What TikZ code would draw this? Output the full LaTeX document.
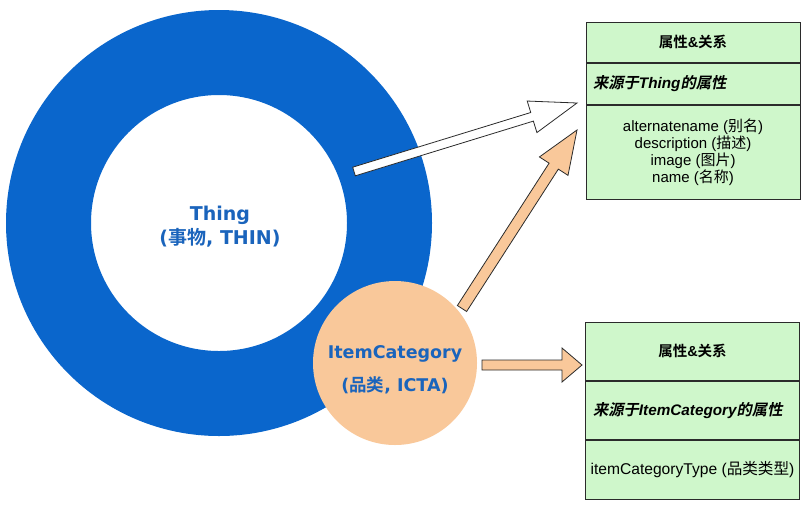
\documentclass[tikz,border=0pt]{standalone}
\usepackage{fontspec}
\setmainfont{Liberation Sans}
\newfontfamily\cjk{Noto Sans CJK SC}[BoldFont={Noto Sans CJK SC Bold}, ItalicFont={Noto Sans CJK SC}, ItalicFeatures={FakeSlant=0.2}, BoldItalicFont={Noto Sans CJK SC Bold}, BoldItalicFeatures={FakeSlant=0.2}]
\newfontfamily\dv{DejaVu Sans}
\usetikzlibrary{calc}
\definecolor{ringblue}{HTML}{0A66CC}
\definecolor{txtblue}{HTML}{1A64BC}
\definecolor{peach}{HTML}{F9C89A}
\definecolor{boxgreen}{HTML}{CFF7CB}
\definecolor{edgegray}{HTML}{2B2B2B}
\newcommand\zh[1]{{\cjk #1}}
% block arrow: #1 style, #2 from, #3 to, #4 shaft half width, #5 head half width, #6 head length
\newcommand\blockarrow[6]{%
  \path[#1] let \p1=($(#3)-(#2)$), \n1={atan2(\y1,\x1)}, \n2={veclen(\x1,\y1)-#6} in
    ($(#2)+({\n1+90}:#4pt)$) -- ($(#2)+(\n1:\n2)+({\n1+90}:#4pt)$) --
    ($(#2)+(\n1:\n2)+({\n1+90}:#5pt)$) -- (#3) --
    ($(#2)+(\n1:\n2)+({\n1-90}:#5pt)$) -- ($(#2)+(\n1:\n2)+({\n1-90}:#4pt)$) --
    ($(#2)+({\n1-90}:#4pt)$) -- cycle;}
\begin{document}
\begin{tikzpicture}[x=1pt,y=1pt,
  bigtext/.style={text=txtblue, align=center, font=\dv\bfseries\fontsize{19}{24}\selectfont},
  ictext/.style={text=txtblue, align=center, font=\dv\bfseries\fontsize{17.5}{33}\selectfont},
  boxrow/.style={draw=edgegray, fill=boxgreen, line width=0.8pt, minimum width=214pt, inner sep=0pt, anchor=north,
    font=\fontsize{15}{17}\selectfont},
  titlefont/.style={font=\fontsize{14.5}{17}\selectfont\bfseries},
  subfont/.style={font=\fontsize{15.3}{17}\selectfont\bfseries\itshape},
  arrowwhite/.style={draw=edgegray, fill=white, line width=0.8pt, line join=miter},
  arrowpeach/.style={draw=edgegray, fill=peach, line width=0.8pt, line join=miter}]
\useasboundingbox[fill=white] (0,0) rectangle (810,-507);
% Thing ring
\coordinate (c) at (219,-223);
\fill[ringblue, even odd rule] (c) circle[radius=213] (c) circle[radius=128];
\node[bigtext] (thing) at (220,-227) {Thing\\(\zh{事物}, THIN)};
% boxes
\node[boxrow, minimum height=40pt, titlefont] (b1t) at (693,-22) {\zh{属性}\&\zh{关系}};
\node[boxrow, minimum height=41pt, text width=200pt, align=left, subfont] (b1m) at (b1t.south) {\zh{来源于}Thing\zh{的属性}};
\node[boxrow, minimum height=94pt, align=center] (b1b) at (b1m.south) {alternatename (\zh{别名})\\description (\zh{描述})\\image (\zh{图片})\\name (\zh{名称})};
\node[boxrow, minimum height=58pt, titlefont] (b2t) at (692.5,-322) {\zh{属性}\&\zh{关系}};
\node[boxrow, minimum height=58pt, text width=199pt, align=left, subfont] (b2m) at (b2t.south) {\zh{来源于}ItemCategory\zh{的属性}};
\node[boxrow, minimum height=59pt, align=center, font=\fontsize{15.6}{17}\selectfont] (b2b) at (b2m.south) {itemCategoryType (\zh{品类类型})};
% arrows
\coordinate (a1s) at (354,-171.5);
\coordinate (a1e) at (577,-103);
\coordinate (a2s) at (462,-308.5);
\coordinate (a2e) at (577,-130);
\coordinate (a3s) at (482,-365);
\coordinate (a3e) at (582,-365);
\blockarrow{arrowwhite}{a1s}{a1e}{4.5}{16.5}{47}
\blockarrow{arrowpeach}{a2s}{a2e}{5.5}{17}{43}
\blockarrow{arrowpeach}{a3s}{a3e}{5}{17}{20}
% ItemCategory circle
\node[circle, fill=peach, minimum size=164pt, inner sep=0pt] (ic) at (395,-363) {};
\node[ictext] (iclabel) at (395,-370) {ItemCategory\\(\zh{品类}, ICTA)};
\end{tikzpicture}
\end{document}
